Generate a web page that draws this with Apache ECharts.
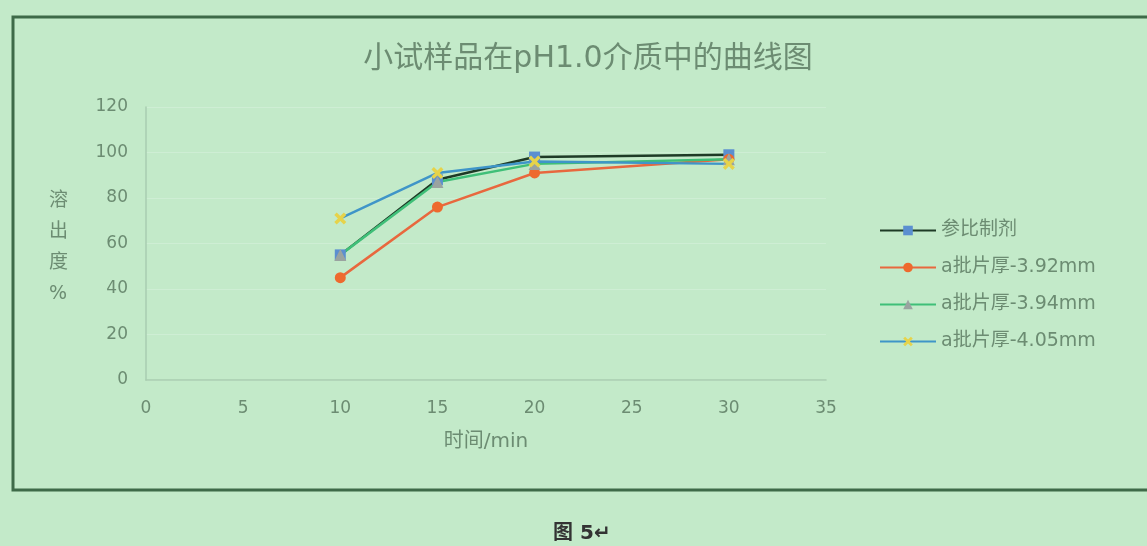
<!DOCTYPE html>
<html>
<head>
<meta charset="utf-8">
<script src="https://cdn.jsdelivr.net/npm/echarts@6/dist/echarts.min.js"></script>
<style>
  html, body { margin: 0; padding: 0; background: #c3eac9; }
  #chart { width: 1147px; height: 546px; }
</style>
</head>
<body>
<div id="chart"></div>
<script>
// Dissolution profiles in pH 1.0 medium
const times = [10, 15, 20, 30];
const seriesNames = ['参比制剂', 'a批片厚-3.92mm', 'a批片厚-3.94mm', 'a批片厚-4.05mm'];
const refValues = [55, 88, 98, 99];
const a392Values = [45, 76, 91, 97];
const a394Values = [55, 87, 95, 97];
const a405Values = [71, 91, 96, 95];
const xTicks = [0, 5, 10, 15, 20, 25, 30, 35];
const yTicks = [0, 20, 40, 60, 80, 100, 120];

const textColor = '#6c8c72';
const font = '"DejaVu Sans", "Noto Sans CJK SC", sans-serif';

function pairs(vals) {
  return times.map((t, i) => [t, vals[i]]);
}

const crossPath = 'path://M2,0 L5,3 L8,0 L10,2 L7,5 L10,8 L8,10 L5,7 L2,10 L0,8 L3,5 L0,2 Z';

const chart = echarts.init(document.getElementById('chart'));
chart.setOption({
  backgroundColor: '#c3eac9',
  animation: false,
  textStyle: { fontFamily: font },
  title: {
    text: '小试样品在pH1.0介质中的曲线图',
    left: 583, top: 39, textAlign: 'center',
    textStyle: { fontSize: 30, fontWeight: 'normal', color: textColor, fontFamily: font }
  },
  legend: {
    orient: 'vertical',
    left: 874, top: 216,
    itemWidth: 56, itemHeight: 12, itemGap: 18,
    textStyle: { fontSize: 19, color: textColor, fontFamily: font },
    data: seriesNames
  },
  grid: { left: 146, right: 321, top: 107, bottom: 166 },
  xAxis: {
    type: 'value', min: xTicks[0], max: xTicks[xTicks.length - 1], interval: 5,
    name: '时间/min', nameLocation: 'middle', nameGap: 52,
    nameTextStyle: { fontSize: 20, color: textColor },
    axisLine: { lineStyle: { color: '#a9cdb0', width: 1.5 } },
    axisTick: { show: false },
    axisLabel: { fontSize: 17, color: textColor, margin: 20 },
    splitLine: { show: false }
  },
  yAxis: {
    type: 'value', min: yTicks[0], max: yTicks[yTicks.length - 1], interval: 20,
    axisLine: { show: true, lineStyle: { color: '#a9cdb0', width: 1.5 } },
    axisTick: { show: false },
    axisLabel: { fontSize: 17, color: textColor, margin: 18 },
    splitLine: { show: true, lineStyle: { color: 'rgba(215,240,220,0.55)', width: 1 } }
  },
  series: [
    {
      name: seriesNames[0], type: 'line', data: pairs(refValues),
      symbol: 'rect', symbolSize: 11,
      lineStyle: { color: '#1e3a26', width: 2.5 },
      itemStyle: { color: '#5b8fd0' }
    },
    {
      name: seriesNames[1], type: 'line', data: pairs(a392Values),
      symbol: 'circle', symbolSize: 11,
      lineStyle: { color: '#e8683e', width: 2.5 },
      itemStyle: { color: '#ee6a2e' }
    },
    {
      name: seriesNames[2], type: 'line', data: pairs(a394Values),
      symbol: 'triangle', symbolSize: 12,
      lineStyle: { color: '#3fbf78', width: 2.5 },
      itemStyle: { color: '#9aa3a0' }
    },
    {
      name: seriesNames[3], type: 'line', data: pairs(a405Values),
      symbol: crossPath, symbolSize: 12,
      lineStyle: { color: '#3f95c8', width: 2.5 },
      itemStyle: { color: '#e6d34a' }
    }
  ],
  graphic: [
    {
      type: 'rect', silent: true,
      shape: { x: 13, y: 17, width: 1150, height: 473 },
      style: { fill: 'none', stroke: '#3e6a48', lineWidth: 3 }
    },
    {
      type: 'text', left: 49, top: 186, silent: true,
      style: { text: '溶\n出\n度\n%', font: '19px ' + font, fill: textColor, lineHeight: 31, align: 'center' }
    },
    {
      type: 'text', left: 553, top: 524, silent: true,
      style: { text: '图 5↵', font: 'bold 20px ' + font, fill: '#333' }
    }
  ]
});
</script>
</body>
</html>
